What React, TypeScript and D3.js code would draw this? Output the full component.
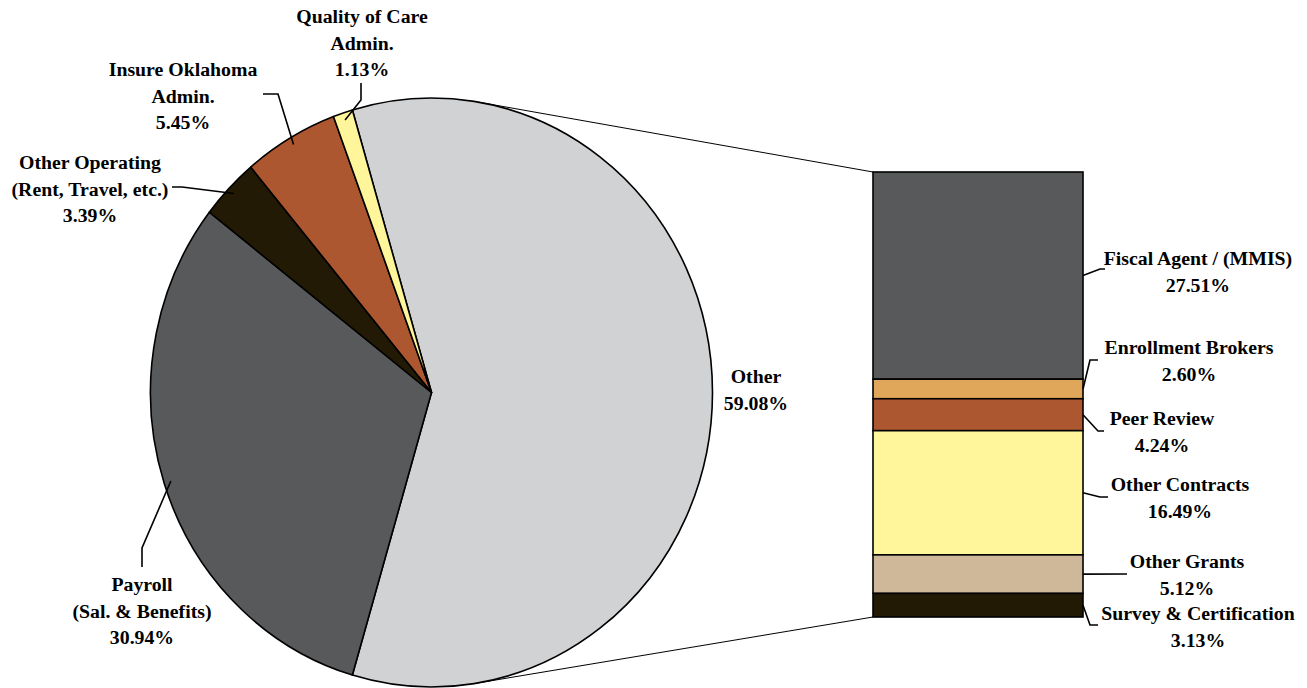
import React from "react";
import * as d3 from "d3";

// Pie slices (share of total administrative spend, %)
const pieNames = ["Other", "Payroll", "Other Operating", "Insure Oklahoma", "Quality of Care"];
const pieValues = [59.08, 30.94, 3.39, 5.45, 1.13];
const pieColors = ["#D1D2D4", "#58595B", "#231A06", "#AD5731", "#FFF59A"];
const pieLabels = [
  ["Other", "59.08%"],
  ["Payroll", "(Sal. & Benefits)", "30.94%"],
  ["Other Operating", "(Rent, Travel, etc.)", "3.39%"],
  ["Insure Oklahoma", "Admin.", "5.45%"],
  ["Quality of Care", "Admin.", "1.13%"],
];

// Breakdown of the "Other" slice, top to bottom
const barNames = ["Fiscal Agent / (MMIS)", "Enrollment Brokers", "Peer Review", "Other Contracts", "Other Grants", "Survey & Certification"];
const barValues = [27.51, 2.6, 4.24, 16.49, 5.12, 3.13];
const barColors = ["#58595B", "#E0A75A", "#AD5731", "#FFF59A", "#CFB79A", "#231A06"];

const W = 1307;
const H = 688;
const cx = 431.5;
const cy = 392.5;
const R = 294.5;
const SX = 281 / 294.5; // pie is drawn slightly narrower than tall
const barX0 = 873;
const barX1 = 1083;
const barTop = 172;
const barBottom = 617;
const lineGap = 26.5;

const FONT = "'Liberation Serif', 'Times New Roman', serif";

// label placement: [text center x, first baseline y, elbow x, elbow y, end x, end y]
const pieLabelPos: Record<string, number[] | null> = {
  Other: null,
  Payroll: [142, 591, 142, 548, 142, 567],
  "Other Operating": [90, 169, 182, 187, 172, 187],
  "Insure Oklahoma": [183, 76, 278, 94, 263, 94],
  "Quality of Care": [362, 23, 361, 100, 361, 83],
};
const otherLabelPos = [756, 383];

const barLabelPos = [
  [1198, 265, 1100, 269, 1105, 269],
  [1189, 354, 1090, 360, 1098, 360],
  [1162, 425, 1098, 431, 1104, 431],
  [1180, 491, 1100, 497, 1108, 497],
  [1187, 568, 1127, 574, 1127, 574],
  [1198, 620, 1090, 625, 1098, 625],
];

// tangent point on the (horizontally squeezed) pie outline seen from (px, py)
function tangentPoint(px: number, py: number, side: number) {
  const dx = (px - cx) / SX;
  const dy = py - cy;
  const d = Math.hypot(dx, dy);
  const a = Math.atan2(dy, dx) + side * Math.acos(R / d);
  return [cx + SX * R * Math.cos(a), cy + R * Math.sin(a)];
}

export default function App() {
  const total = d3.sum(pieValues);
  const otherSpan = (pieValues[0] / total) * 2 * Math.PI;
  const a0 = Math.PI / 2 - otherSpan / 2;
  const pie = d3
    .pie<number>()
    .sort(null)
    .value((d) => d)
    .startAngle(a0)
    .endAngle(a0 + 2 * Math.PI);
  const arcs = pie(pieValues);
  const arc = d3.arc<d3.PieArcDatum<number>>().innerRadius(0).outerRadius(R);

  const barSum = d3.sum(barValues);
  const y = d3.scaleLinear().domain([0, barSum]).range([barTop, barBottom]);
  const cum = d3.cumsum(barValues);
  const segs = barValues.map((v, i) => ({ y0: y(cum[i] - v), y1: y(cum[i]) }));

  const topT = tangentPoint(barX0, barTop, -1);
  const botT = tangentPoint(barX0, barBottom, 1);

  const textProps = {
    fontFamily: FONT,
    fontWeight: 700,
    fontSize: 19.8,
    fill: "#000",
    textAnchor: "middle" as const,
  };

  return (
    <svg width={W} height={H} style={{ position: "absolute", left: 0, top: 0, display: "block", background: "#fff" }}>
      {/* connector lines between the pie and the breakdown bar */}
      <line x1={topT[0]} y1={topT[1]} x2={barX0} y2={barTop} stroke="#000" strokeWidth={1} />
      <line x1={botT[0]} y1={botT[1]} x2={barX0} y2={barBottom} stroke="#000" strokeWidth={1} />

      <g transform={`translate(${cx},${cy}) scale(${SX},1)`}>
        {arcs.map((a, i) => (
          <path
            key={pieNames[i]}
            d={arc(a) || ""}
            fill={pieColors[i]}
            stroke="#000"
            strokeWidth={1.6}
            strokeLinejoin="round"
            vectorEffect="non-scaling-stroke"
          />
        ))}
      </g>

      {segs.map((s, i) => (
        <rect key={barNames[i]} x={barX0} y={s.y0} width={barX1 - barX0} height={s.y1 - s.y0} fill={barColors[i]} stroke="#000" strokeWidth={1.6} />
      ))}

      {/* pie labels with leader lines */}
      {arcs.map((a, i) => {
        const name = pieNames[i];
        const pos = pieLabelPos[name];
        const lines = pieLabels[i];
        if (!pos) {
          return (
            <text key={name} {...textProps}>
              {lines.map((t, k) => (
                <tspan key={k} x={otherLabelPos[0]} y={otherLabelPos[1] + k * lineGap}>
                  {t}
                </tspan>
              ))}
            </text>
          );
        }
        const mid = (a.startAngle + a.endAngle) / 2;
        const ax = cx + SX * R * 0.975 * Math.sin(mid);
        const ay = cy - R * 0.975 * Math.cos(mid);
        const [tx, ty, ex, ey, fx, fy] = pos;
        return (
          <g key={name}>
            <polyline points={`${ax},${ay} ${ex},${ey} ${fx},${fy}`} fill="none" stroke="#000" strokeWidth={1.6} />
            <text {...textProps}>
              {lines.map((t, k) => (
                <tspan key={k} x={tx} y={ty + k * lineGap}>
                  {t}
                </tspan>
              ))}
            </text>
          </g>
        );
      })}

      {/* bar labels with leader lines */}
      {segs.map((s, i) => {
        const [tx, ty, ex, ey, fx, fy] = barLabelPos[i];
        const my = (s.y0 + s.y1) / 2;
        return (
          <g key={barNames[i]}>
            <polyline points={`${barX1},${my} ${ex},${ey} ${fx},${fy}`} fill="none" stroke="#000" strokeWidth={1.6} />
            <text {...textProps}>
              <tspan x={tx} y={ty}>
                {barNames[i]}
              </tspan>
              <tspan x={tx} y={ty + lineGap}>
                {`${barValues[i].toFixed(2)}%`}
              </tspan>
            </text>
          </g>
        );
      })}
    </svg>
  );
}
